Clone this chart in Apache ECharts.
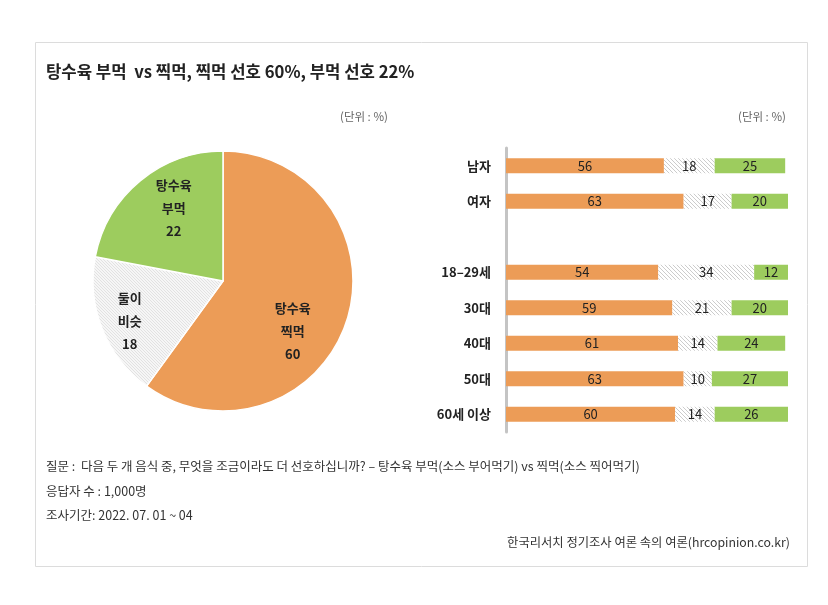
<!DOCTYPE html>
<html><head><meta charset="utf-8">
<script src="https://cdn.jsdelivr.net/npm/echarts@6/dist/echarts.min.js"></script>
<style>html,body{margin:0;padding:0;background:#fff}#c{width:828px;height:605px}</style>
</head><body><div id="c"></div>
<script>
const pieNames = ['탕수육\n찍먹', '둘이\n비슷', '탕수육\n부먹'];
const pieValues = [60, 18, 22];
const barCategories = ['남자', '여자', '', '18–29세', '30대', '40대', '50대', '60세 이상'];
const dipValues = [56, 63, '-', 54, 59, 61, 63, 60];
const similarValues = [18, 17, '-', 34, 21, 14, 10, 14];
const pourValues = [25, 20, '-', 12, 20, 24, 27, 26];

const FONT = '"Noto Sans CJK KR", "Noto Sans", sans-serif';
const ORANGE = '#EC9C57';
const GREEN = '#9DCC5E';

function hatch(step, bg, stroke, lw) {
  const c = document.createElement('canvas');
  c.width = step; c.height = step;
  const g = c.getContext('2d');
  g.fillStyle = bg; g.fillRect(0, 0, step, step);
  g.strokeStyle = stroke; g.lineWidth = lw;
  g.beginPath();
  g.moveTo(0, 0); g.lineTo(step, step);
  g.moveTo(-step, 0); g.lineTo(step, 2 * step);
  g.moveTo(0, -step); g.lineTo(2 * step, step);
  g.stroke();
  return { image: c, repeat: 'repeat' };
}
const barHatch = hatch(4, '#ffffff', '#cccccc', 1);
const pieHatch = hatch(3, '#f6f6f6', '#e2e2e2', 1);

const pieColors = [ORANGE, pieHatch, GREEN];
const pieOffsets = [[5, 29], [-30, 15], [-6, -21]];

const chart = echarts.init(document.getElementById('c'), null, { renderer: 'canvas' });

const barLabel = {
  show: true, position: 'inside', color: '#222', fontSize: 13, fontFamily: FONT
};
const footStyle = { fontSize: 12.5, fontWeight: 'normal', color: '#333', fontFamily: FONT };

chart.setOption({
  animation: false,
  backgroundColor: '#fff',
  graphic: [{
    type: 'rect', shape: { x: 35.5, y: 42.5, width: 772, height: 524 },
    style: { fill: 'none', stroke: '#dcdcdc', lineWidth: 1 }, silent: true
  }],
  title: [
    { text: '탕수육 부먹  vs 찍먹, 찍먹 선호 60%, 부먹 선호 22%', left: 41, top: 58,
      textStyle: { fontSize: 16.7, fontWeight: 'bold', color: '#222', fontFamily: FONT } },
    { text: '(단위 : %)', left: 335, top: 106, textStyle: { fontSize: 11.5, fontWeight: 'normal', color: '#666', fontFamily: FONT } },
    { text: '(단위 : %)', left: 733, top: 106, textStyle: { fontSize: 11.5, fontWeight: 'normal', color: '#666', fontFamily: FONT } },
    { text: '질문 :  다음 두 개 음식 중, 무엇을 조금이라도 더 선호하십니까? – 탕수육 부먹(소스 부어먹기) vs 찍먹(소스 찍어먹기)', left: 41, top: 455,
      textStyle: footStyle },
    { text: '응답자 수 : 1,000명', left: 41, top: 480, textStyle: footStyle },
    { text: '조사기간: 2022. 07. 01 ~ 04', left: 41, top: 504, textStyle: footStyle },
    { text: '한국리서치 정기조사 여론 속의 여론(hrcopinion.co.kr)', right: 33, top: 531,
      textStyle: { fontSize: 12.3, fontWeight: 'normal', color: '#333', fontFamily: FONT } }
  ],
  grid: { left: 506, width: 282, top: 148, height: 284 },
  xAxis: { type: 'value', min: 0, max: 100, show: false },
  yAxis: {
    type: 'category', data: barCategories, inverse: true,
    axisLine: { show: true, lineStyle: { color: '#c4c4c4', width: 3 } },
    axisTick: { show: false },
    axisLabel: { color: '#222', fontSize: 13, fontWeight: 'bold', fontFamily: FONT, margin: 15 }
  },
  series: [
    { type: 'bar', stack: 'a', data: dipValues, barWidth: 15, itemStyle: { color: ORANGE }, label: barLabel },
    { type: 'bar', stack: 'a', data: similarValues, barWidth: 15, itemStyle: { color: barHatch }, label: barLabel },
    { type: 'bar', stack: 'a', data: pourValues, barWidth: 15, itemStyle: { color: GREEN }, label: barLabel },
    {
      type: 'pie', center: [223, 281], radius: [0, 130], startAngle: 90, clockwise: true,
      itemStyle: { borderColor: '#fff', borderWidth: 1.5 },
      label: { show: true, position: 'inside', color: '#222', fontSize: 13, fontWeight: 'bold', lineHeight: 23,
        fontFamily: FONT, formatter: p => p.name + '\n' + p.value },
      labelLine: { show: false },
      data: pieNames.map((n, i) => ({ name: n, value: pieValues[i],
        itemStyle: { color: pieColors[i] }, label: { offset: pieOffsets[i] } }))
    }
  ]
});
</script></body></html>
